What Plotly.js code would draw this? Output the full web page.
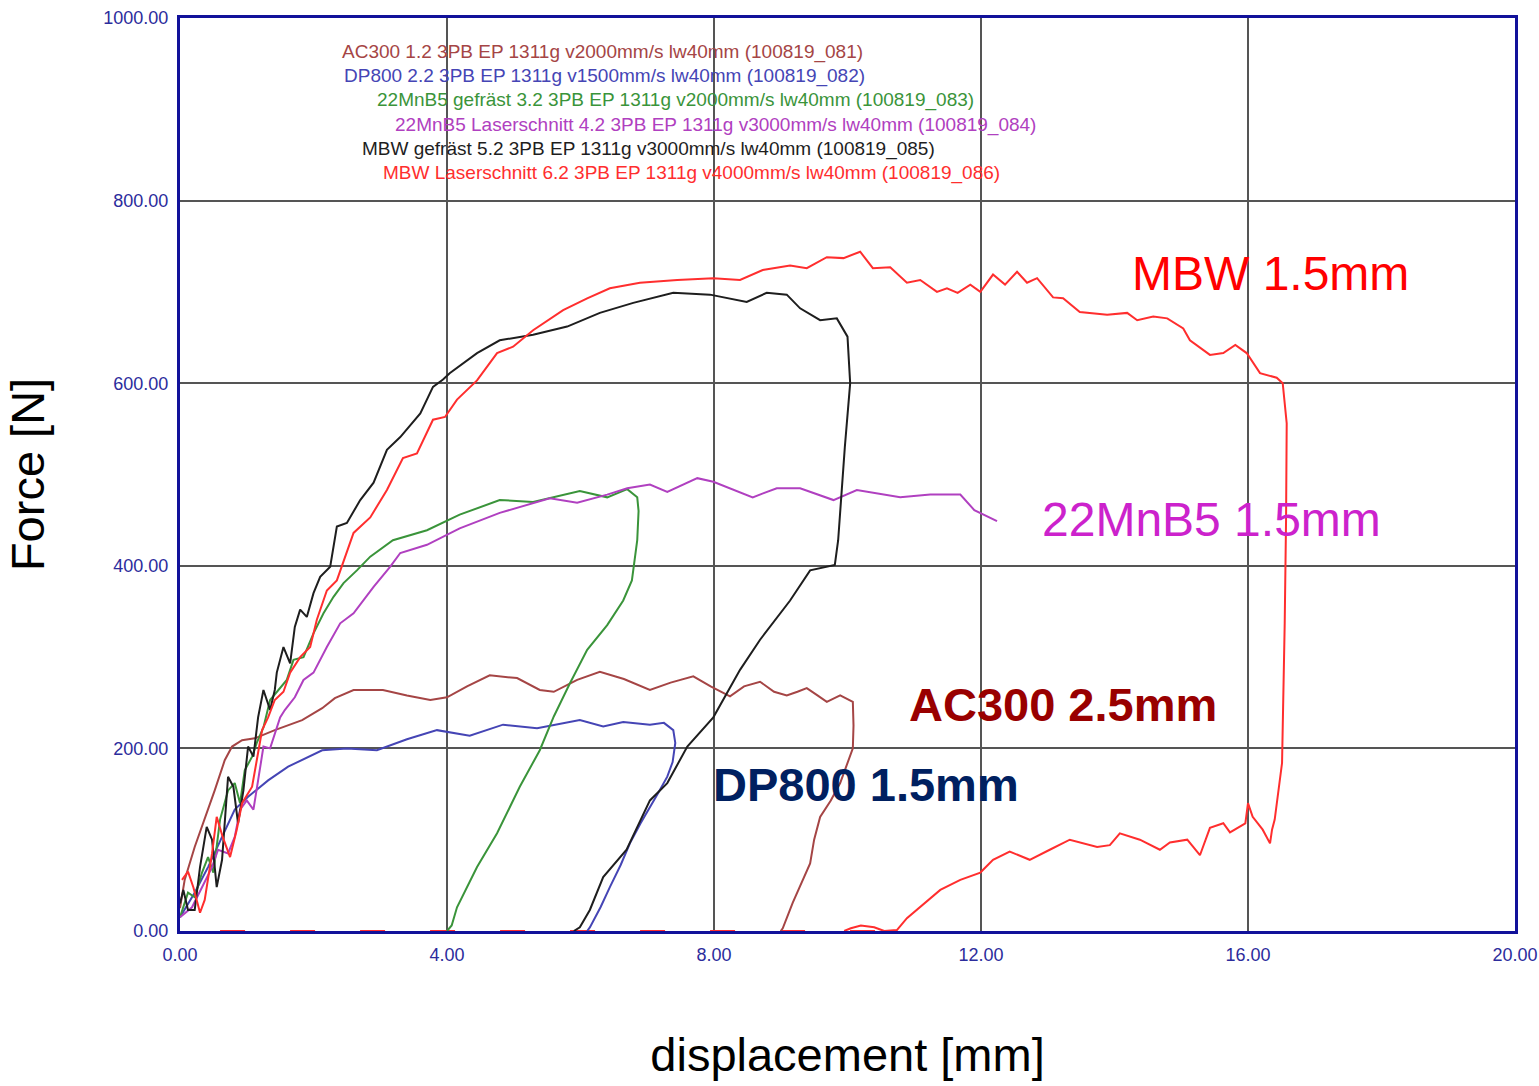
<!DOCTYPE html>
<html>
<head>
<meta charset="utf-8">
<script src="https://cdn.plot.ly/plotly-3.0.1.min.js"></script>
<style>html,body{margin:0;padding:0;background:#fff;}#chart{width:1539px;height:1086px;}</style>
</head>
<body>
<div id="chart"></div>
<script>
// ---- data (displacement [mm], force [N]) ----
const ac300X = [0.0, 0.07, 0.22, 0.37, 0.52, 0.67, 0.78, 0.93, 1.12, 1.42, 1.83, 2.13, 2.32, 2.6, 3.04, 3.4, 3.75, 4.0, 4.3, 4.64, 5.05, 5.39, 5.6, 5.95, 6.29, 6.65, 7.04, 7.35, 7.69, 7.95, 8.24, 8.45, 8.69, 8.9, 9.09, 9.25, 9.39, 9.55, 9.69, 9.89, 10.08, 10.09, 10.08, 9.89, 9.75, 9.59, 9.5, 9.44, 9.3, 9.18, 9.03, 9.0];
const ac300Y = [25, 56, 92, 122, 154, 187, 202, 209, 211, 220, 231, 244, 255, 264, 264, 258, 253, 256, 268, 280, 277, 264, 262, 275, 284, 276, 264, 272, 279, 268, 257, 268, 273, 262, 258, 262, 266, 258, 251, 258, 251, 225, 200, 162, 143, 125, 100, 74, 50, 31, 3, 0];

const dp800X = [0.0, 0.22, 0.42, 0.63, 0.82, 1.02, 1.32, 1.62, 1.92, 2.13, 2.5, 2.95, 3.4, 3.85, 4.34, 4.84, 5.35, 5.84, 5.99, 6.34, 6.64, 7.04, 7.25, 7.39, 7.42, 7.38, 7.3, 7.17, 7.04, 6.9, 6.74, 6.6, 6.44, 6.3, 6.14, 6.1];
const dp800Y = [15, 42, 70, 103, 133, 147, 165, 180, 191, 198, 200, 198, 210, 220, 214, 226, 222, 229, 231, 224, 229, 226, 228, 220, 206, 185, 169, 152, 136, 118, 96, 72, 48, 26, 4, 0];

const mnb5MillX = [0.0, 0.12, 0.22, 0.33, 0.42, 0.5, 0.6, 0.72, 0.82, 0.9, 0.97, 1.08, 1.15, 1.25, 1.35, 1.47, 1.6, 1.7, 1.85, 2.0, 2.15, 2.3, 2.45, 2.65, 2.85, 3.19, 3.7, 4.19, 4.79, 5.29, 5.99, 6.4, 6.7, 6.85, 6.87, 6.85, 6.77, 6.64, 6.4, 6.1, 5.84, 5.6, 5.39, 5.09, 4.75, 4.45, 4.15, 4.07, 4.0];
const mnb5MillY = [15, 42, 37, 64, 81, 64, 122, 154, 162, 140, 176, 191, 206, 223, 253, 264, 275, 297, 300, 326, 348, 366, 381, 395, 410, 428, 439, 456, 472, 470, 482, 475, 484, 475, 460, 428, 384, 362, 335, 308, 271, 235, 198, 158, 107, 70, 26, 6, 0];

const mnb5LaserX = [0.0, 0.18, 0.33, 0.48, 0.57, 0.72, 0.82, 0.9, 1.0, 1.1, 1.17, 1.25, 1.35, 1.42, 1.5, 1.57, 1.72, 1.85, 2.0, 2.2, 2.4, 2.6, 2.9, 3.15, 3.3, 3.7, 4.19, 4.79, 5.54, 5.95, 6.4, 6.7, 7.04, 7.3, 7.75, 7.99, 8.58, 8.94, 9.29, 9.79, 10.14, 10.79, 11.24, 11.69, 11.9, 12.24];
const mnb5LaserY = [15, 26, 48, 70, 89, 85, 103, 133, 143, 133, 165, 202, 200, 217, 234, 242, 256, 275, 283, 311, 337, 348, 377, 399, 414, 423, 441, 458, 474, 469, 478, 485, 489, 481, 496, 492, 475, 485, 485, 472, 483, 475, 478, 478, 461, 449];

const mbwMillX = [0.0, 0.05, 0.12, 0.22, 0.3, 0.4, 0.48, 0.55, 0.63, 0.72, 0.8, 0.87, 0.95, 1.02, 1.1, 1.17, 1.25, 1.35, 1.42, 1.45, 1.55, 1.65, 1.72, 1.8, 1.9, 2.0, 2.1, 2.25, 2.35, 2.5, 2.7, 2.9, 3.1, 3.3, 3.6, 3.79, 3.94, 4.04, 4.45, 4.79, 5.29, 5.8, 6.29, 6.79, 7.39, 7.94, 8.49, 8.79, 9.09, 9.29, 9.59, 9.84, 10.0, 10.04, 9.96, 9.89, 9.86, 9.81, 9.44, 9.14, 8.69, 8.39, 7.99, 7.6, 7.3, 7.04, 6.69, 6.34, 6.14, 5.99, 5.9];
const mbwMillY = [30, 45, 23, 23, 70, 114, 100, 48, 78, 169, 158, 118, 154, 202, 191, 234, 264, 242, 264, 283, 311, 293, 333, 352, 344, 370, 388, 399, 443, 447, 472, 491, 527, 541, 567, 596, 604, 611, 633, 647, 653, 662, 677, 688, 699, 697, 689, 699, 697, 682, 669, 671, 651, 600, 530, 453, 428, 401, 395, 362, 319, 286, 234, 202, 162, 143, 89, 59, 23, 4, 0];

const mbwLaserX = [0.03, 0.12, 0.2, 0.3, 0.37, 0.48, 0.55, 0.64, 0.75, 0.85, 0.93, 1.08, 1.15, 1.23, 1.32, 1.42, 1.55, 1.65, 1.8, 1.95, 2.05, 2.2, 2.35, 2.44, 2.6, 2.85, 3.1, 3.34, 3.55, 3.79, 3.97, 4.15, 4.45, 4.75, 4.99, 5.29, 5.74, 6.1, 6.44, 6.89, 7.45, 7.99, 8.39, 8.73, 9.14, 9.39, 9.69, 9.94, 10.19, 10.38, 10.64, 10.89, 11.09, 11.34, 11.49, 11.65, 11.84, 11.99, 12.18, 12.36, 12.54, 12.69, 12.84, 13.08, 13.23, 13.48, 13.89, 14.19, 14.34, 14.58, 14.79, 15.03, 15.13, 15.43, 15.63, 15.81, 15.98, 16.18, 16.43, 16.52, 16.58, 16.57, 16.55, 16.51, 16.45, 16.4, 16.36, 16.33, 16.22, 16.07, 16.0, 15.96, 15.73, 15.63, 15.43, 15.28, 15.09, 14.83, 14.68, 14.38, 14.08, 13.93, 13.74, 13.33, 13.03, 12.73, 12.43, 12.18, 11.99, 11.69, 11.39, 11.09, 10.89, 10.74, 10.55, 10.4, 10.2, 10.05, 9.95];
const mbwLaserY = [56, 65, 48, 20, 34, 85, 125, 103, 81, 111, 140, 158, 187, 220, 234, 253, 262, 283, 300, 311, 341, 373, 384, 403, 436, 453, 483, 518, 523, 560, 563, 582, 603, 633, 640, 658, 680, 693, 704, 710, 713, 715, 713, 724, 729, 726, 738, 737, 744, 726, 727, 710, 713, 700, 704, 699, 708, 700, 719, 708, 722, 710, 715, 694, 693, 678, 675, 677, 669, 673, 671, 660, 647, 631, 633, 642, 633, 611, 606, 600, 556, 450, 337, 184, 147, 122, 111, 96, 111, 125, 140, 118, 108, 118, 113, 83, 100, 97, 89, 100, 107, 94, 92, 100, 89, 78, 87, 78, 64, 56, 45, 26, 14, 1, 0, 4, 6, 3, 0];

// return path of the laser-cut MBW specimen along zero force
const mbwReturnX = [0.6, 10.5];
const mbwReturnY = [0, 0];

const legendLines = [
  "AC300 1.2 3PB EP 1311g v2000mm/s lw40mm (100819_081)",
  "DP800 2.2 3PB EP 1311g v1500mm/s lw40mm (100819_082)",
  "22MnB5 gefräst 3.2 3PB EP 1311g v2000mm/s lw40mm (100819_083)",
  "22MnB5 Laserschnitt 4.2 3PB EP 1311g v3000mm/s lw40mm (100819_084)",
  "MBW gefräst 5.2 3PB EP 1311g v3000mm/s lw40mm (100819_085)",
  "MBW Laserschnitt 6.2 3PB EP 1311g v4000mm/s lw40mm (100819_086)"
];
const materialLabels = ["MBW 1.5mm", "22MnB5 1.5mm", "AC300 2.5mm", "DP800 1.5mm"];

// ---- styling ----
const cAC = "#a54545", cDP = "#4545b5", cGr = "#3a943a", cMa = "#b040c0", cBk = "#1e1e1e", cRd = "#ff2e2e";
const legendColors = [cAC, cDP, cGr, cMa, cBk, cRd];
const legendPos = [[2.40, 963], [2.43, 936.5], [2.92, 910], [3.19, 883], [2.70, 857], [3.01, 830]];

function tr(x, y, color, dash) {
  return {x: x, y: y, type: "scatter", mode: "lines", line: {color: color, width: 2, dash: dash || "solid"}, hoverinfo: "skip", showlegend: false};
}

const traces = [
  tr(mbwReturnX, mbwReturnY, cRd, "25px,45px"),
  tr(ac300X, ac300Y, cAC),
  tr(dp800X, dp800Y, cDP),
  tr(mnb5MillX, mnb5MillY, cGr),
  tr(mnb5LaserX, mnb5LaserY, cMa),
  tr(mbwMillX, mbwMillY, cBk),
  tr(mbwLaserX, mbwLaserY, cRd)
];

const font = "Liberation Sans, Arial, sans-serif";
const annotations = legendLines.map((t, i) => ({
  text: t, x: legendPos[i][0], y: legendPos[i][1], xref: "x", yref: "y",
  xanchor: "left", yanchor: "middle", showarrow: false,
  font: {family: font, size: 19, color: legendColors[i]}
}));
annotations.push(
  {text: materialLabels[0], x: 14.23, y: 720, xref: "x", yref: "y", xanchor: "left", yanchor: "middle", showarrow: false, font: {family: font, size: 48, color: "#ff0000"}},
  {text: materialLabels[1], x: 12.88, y: 451, xref: "x", yref: "y", xanchor: "left", yanchor: "middle", showarrow: false, font: {family: font, size: 48, color: "#cc22cc"}},
  {text: "<b>" + materialLabels[2] + "</b>", x: 10.89, y: 248, xref: "x", yref: "y", xanchor: "left", yanchor: "middle", showarrow: false, font: {family: font, size: 47, color: "#990000"}},
  {text: "<b>" + materialLabels[3] + "</b>", x: 7.96, y: 160, xref: "x", yref: "y", xanchor: "left", yanchor: "middle", showarrow: false, font: {family: font, size: 47, color: "#002060"}}
);

const axisCommon = {
  showline: true, mirror: true, linecolor: "#11119a", linewidth: 3,
  showgrid: true, gridcolor: "#555555", gridwidth: 2, zeroline: false,
  ticks: "", tickformat: ".2f", ticklabelstandoff: 5,
  tickfont: {family: font, size: 18, color: "#2c2c9c"}
};

const layout = {
  width: 1539, height: 1086,
  margin: {l: 180, r: 24, t: 18, b: 155},
  paper_bgcolor: "#ffffff", plot_bgcolor: "#ffffff",
  showlegend: false,
  xaxis: Object.assign({}, axisCommon, {
    range: [0, 20], dtick: 4, tick0: 0,
    title: {text: "displacement [mm]", font: {family: font, size: 47, color: "#000"}, standoff: 75}
  }),
  yaxis: Object.assign({}, axisCommon, {
    range: [0, 1000], dtick: 200, tick0: 0,
    title: {text: "Force [N]", font: {family: font, size: 47, color: "#000"}, standoff: 44}
  }),
  annotations: annotations
};

Plotly.newPlot("chart", traces, layout, {displayModeBar: false, staticPlot: true});
</script>
</body>
</html>
